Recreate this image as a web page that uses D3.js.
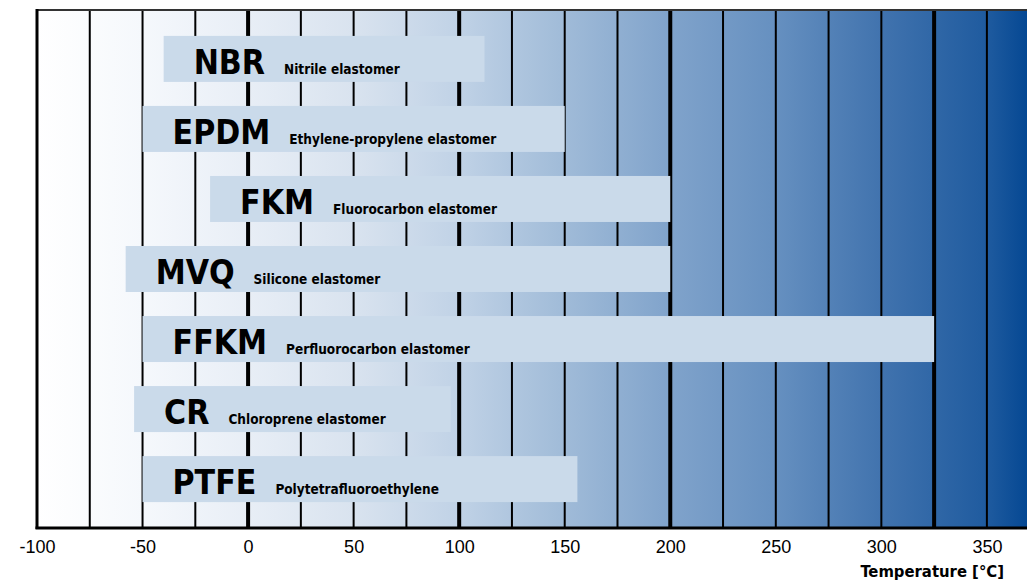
<!DOCTYPE html>
<html>
<head>
<meta charset="utf-8">
<script src="https://cdn.jsdelivr.net/npm/d3@7"></script>
<style>
  body { margin: 0; background: #fff; }
  svg { display: block; }
</style>
</head>
<body>
<script>
// material abbreviations and full names
const abbrs = ["NBR", "EPDM", "FKM", "MVQ", "FFKM", "CR", "PTFE"];
const names = ["Nitrile elastomer", "Ethylene-propylene elastomer", "Fluorocarbon elastomer",
  "Silicone elastomer", "Perfluorocarbon elastomer", "Chloroprene elastomer", "Polytetrafluoroethylene"];
// temperature range of each material
const minTemp = [-40, -50, -18, -58, -50, -54, -50];
const maxTemp = [112, 150, 200, 200, 325, 96, 156];
// axis tick labels and grid lines
const tickValues = [-100, -50, 0, 50, 100, 150, 200, 250, 300, 350];
const gridValues = [-75, -50, -25, 0, 25, 50, 75, 100, 125, 150, 175, 200, 225, 250, 275, 300, 325, 350];
const thickLines = [0, 100, 200, 325];
// background gradient stops (temperature, colour)
const gradTemps = [-100, -50, 0, 50, 100, 150, 200, 250, 300, 350, 369];
const gradColors = ["#ffffff", "#f5f8fc", "#e8eef6", "#d9e3ef", "#c0d2e6", "#a0bbd8", "#80a3cb",
  "#6690c0", "#4173ae", "#1f5b9f", "#054893"];

const w = 1027, h = 583;
const margin = { top: 10, right: 0, bottom: 55, left: 37 };

const svg = d3.select("body").append("svg")
  .attr("width", w)
  .attr("height", h);

// x scale
const xScale = d3.scaleLinear()
  .domain([-100, 369])
  .range([margin.left, w - margin.right]);

// y scale for the bars
const yScale = d3.scaleBand()
  .domain(abbrs)
  .range([margin.top, h - margin.bottom])
  .paddingInner(0.343)
  .paddingOuter(0.37);

// background gradient
const grad = svg.append("defs").append("linearGradient")
  .attr("id", "bg")
  .attr("gradientUnits", "userSpaceOnUse")
  .attr("x1", xScale(-100)).attr("x2", xScale(369))
  .attr("y1", 0).attr("y2", 0);
grad.selectAll("stop")
  .data(gradTemps)
  .enter().append("stop")
  .attr("offset", d => (d + 100) / 469)
  .attr("stop-color", (d, i) => gradColors[i]);

svg.append("rect")
  .attr("x", xScale(-100))
  .attr("y", margin.top)
  .attr("width", xScale(369) - xScale(-100))
  .attr("height", h - margin.bottom - margin.top)
  .attr("fill", "url(#bg)");

// grid lines
svg.selectAll(".grid")
  .data(gridValues)
  .enter().append("line")
  .attr("class", "grid")
  .attr("x1", d => xScale(d)).attr("x2", d => xScale(d))
  .attr("y1", margin.top).attr("y2", h - margin.bottom)
  .attr("stroke", "#000")
  .attr("stroke-width", d => thickLines.includes(d) ? 4 : 2);

// frame
svg.append("line")
  .attr("x1", xScale(-100)).attr("x2", w)
  .attr("y1", margin.top).attr("y2", margin.top)
  .attr("stroke", "#333").attr("stroke-width", 2);
svg.append("line")
  .attr("x1", xScale(-100)).attr("x2", xScale(-100))
  .attr("y1", margin.top - 1).attr("y2", h - margin.bottom + 1)
  .attr("stroke", "#000").attr("stroke-width", 3);
svg.append("line")
  .attr("x1", xScale(-100) - 1.5).attr("x2", w)
  .attr("y1", h - margin.bottom).attr("y2", h - margin.bottom)
  .attr("stroke", "#000").attr("stroke-width", 3);

// bars
const rows = abbrs.map((a, i) => ({ abbr: a, name: names[i], lo: minTemp[i], hi: maxTemp[i] }));

const g = svg.selectAll(".row")
  .data(rows)
  .enter().append("g")
  .attr("class", "row");

g.append("rect")
  .attr("x", d => xScale(d.lo))
  .attr("y", d => yScale(d.abbr))
  .attr("width", d => xScale(d.hi) - xScale(d.lo))
  .attr("height", yScale.bandwidth())
  .attr("fill", "#cadaea");

const abbrText = g.append("text")
  .attr("x", d => xScale(d.lo) + 30)
  .attr("y", d => yScale(d.abbr) + 38)
  .attr("font-family", "'DejaVu Sans Condensed', 'DejaVu Sans', sans-serif")
  .attr("font-stretch", "condensed")
  .attr("font-weight", "bold")
  .attr("font-size", 33.5)
  .attr("fill", "#000")
  .text(d => d.abbr);

g.append("text")
  .attr("x", function (d, i) {
    return xScale(d.lo) + 30 + abbrText.nodes()[i].getComputedTextLength() + 19;
  })
  .attr("y", d => yScale(d.abbr) + 38)
  .attr("font-family", "'DejaVu Sans Condensed', 'DejaVu Sans', sans-serif")
  .attr("font-stretch", "condensed")
  .attr("font-weight", "bold")
  .attr("font-size", 13.5)
  .attr("fill", "#000")
  .text(d => d.name);

// x axis labels
const xAxis = d3.axisBottom(xScale)
  .tickValues(tickValues)
  .tickSize(0)
  .tickPadding(0)
  .tickFormat(d => String(d));

const xAxisG = svg.append("g")
  .attr("transform", `translate(0, ${h - margin.bottom})`)
  .call(xAxis);
xAxisG.select(".domain").remove();
xAxisG.selectAll("text")
  .attr("y", 25)
  .attr("dy", 0)
  .attr("font-family", "'Liberation Sans', sans-serif")
  .attr("font-size", 18)
  .attr("fill", "#000");

// axis title
svg.append("text")
  .attr("x", 1004)
  .attr("y", 577)
  .attr("text-anchor", "end")
  .attr("font-family", "'DejaVu Sans Condensed', 'DejaVu Sans', sans-serif")
  .attr("font-stretch", "condensed")
  .attr("font-weight", "bold")
  .attr("font-size", 16.5)
  .attr("fill", "#000")
  .text("Temperature [°C]");
</script>
</body>
</html>
